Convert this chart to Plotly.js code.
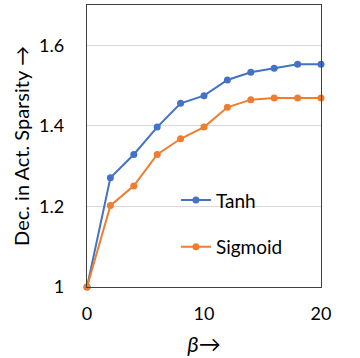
<!DOCTYPE html>
<html>
<head>
<meta charset="utf-8">
<script src="https://cdn.plot.ly/plotly-3.0.1.min.js"></script>
<style>html,body{margin:0;padding:0;background:#fff;}#chart{width:360px;height:358px;}</style>
</head>
<body>
<div id="chart"></div>
<script>
const beta = [0, 2, 4, 6, 8, 10, 12, 14, 16, 18, 20];
const tanh = [1.0, 1.271, 1.329, 1.397, 1.456, 1.475, 1.514, 1.533, 1.543, 1.553, 1.553];
const sigmoid = [1.0, 1.202, 1.251, 1.329, 1.368, 1.397, 1.446, 1.465, 1.469, 1.469, 1.469];
const seriesNames = ["Tanh", "Sigmoid"];
const xTicks = [0, 10, 20];
const yTicks = [1, 1.2, 1.4, 1.6];
const yTickText = ["1", "1.2", "1.4", "1.6"];

const font = "Lato, 'Open Sans', 'Liberation Sans', sans-serif";
const traces = [
  {x: beta, y: tanh, name: seriesNames[0], legendgroup: "a", type: "scatter", mode: "lines+markers",
   line: {color: "#4472C4", width: 2}, marker: {color: "#4472C4", size: 7}, cliponaxis: false},
  {x: beta, y: sigmoid, name: seriesNames[1], legendgroup: "b", type: "scatter", mode: "lines+markers",
   line: {color: "#ED7D31", width: 2}, marker: {color: "#ED7D31", size: 7}, cliponaxis: false}
];
const layout = {
  width: 360, height: 358,
  margin: {l: 87, r: 39, t: 5, b: 71},
  paper_bgcolor: "#fff", plot_bgcolor: "#fff",
  font: {family: font, size: 18, color: "#000"},
  showlegend: true,
  legend: {x: 0.38, y: 0.375, xanchor: "left", yanchor: "top", bgcolor: "rgba(0,0,0,0)",
           font: {size: 19, color: "#000"}, itemwidth: 30, tracegroupgap: 19},
  xaxis: {range: [0, 20], tickvals: xTicks, ticktext: xTicks.map(String), showgrid: false, zeroline: false,
          showline: true, mirror: true, linecolor: "#404040", linewidth: 1.3, ticks: "", ticklabelstandoff: 10,
          title: {text: "<i>β</i>→", font: {size: 22}, standoff: 13}},
  yaxis: {range: [1, 1.7], tickvals: yTicks, ticktext: yTickText, showgrid: true, gridcolor: "#d9d9d9", gridwidth: 1,
          zeroline: false, showline: true, mirror: true, linecolor: "#404040", linewidth: 1.3, ticks: "",
          ticklabelstandoff: 18,
          title: {text: "Dec. in Act. Sparsity →", font: {size: 20}, standoff: 4}}
};
Plotly.newPlot("chart", traces, layout, {displayModeBar: false, staticPlot: true});
</script>
</body>
</html>
